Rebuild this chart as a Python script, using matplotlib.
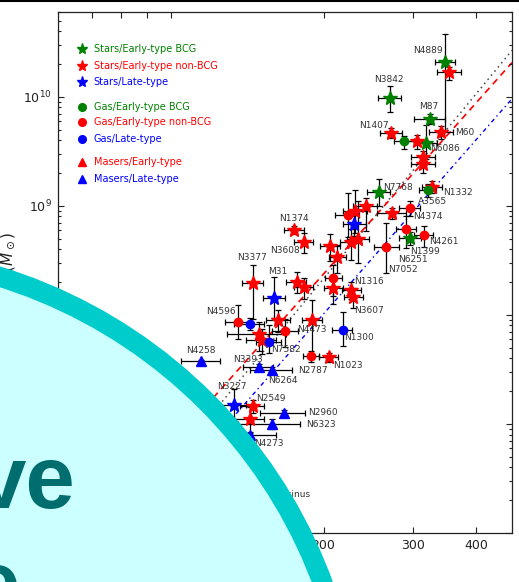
import matplotlib
matplotlib.use("Agg")
import matplotlib.pyplot as plt
from matplotlib.patches import Circle
from matplotlib.lines import Line2D
from matplotlib.transforms import IdentityTransform
from matplotlib.ticker import FixedLocator, NullLocator, FuncFormatter

GREEN = "#008000"
RED = "#ff0000"
BLUE = "#0000ff"

# ---------------------------------------------------------------------------
# Data: sigma (km/s), BH mass (Msun), errors
# ---------------------------------------------------------------------------
# Stars / early-type BCG
sbcg_name = ["N4889", "N3842", "M87", "N7768", "N6086", "N1399"]
sbcg_sig = [347, 270, 324, 257, 318, 296]
sbcg_sig_err = [16, 14, 23, 13, 16, 15]
sbcg_m = [2.1e10, 9.7e9, 6.3e9, 1.33e9, 3.8e9, 5.1e8]
sbcg_m_lo = [1.6e10, 2.5e9, 0.7e9, 0.34e9, 1.1e9, 0.7e8]
sbcg_m_hi = [1.66e10, 3.0e9, 0.7e9, 0.45e9, 1.7e9, 0.7e8]

# Stars / early-type non-BCG
snon_name = ["", "N1407", "M60", "", "", "", "N1332", "", "", "",
             "", "", "", "", "N1374", "N3608", "N3377", "", "", "",
             "N1316", "N3607", "", "N4473", "N1023", "", "", "N2549", ""]
snon_sig = [354, 272, 341, 305, 314, 314, 327, 273, 231, 242,
            226, 234, 206, 213, 175, 183, 145, 177, 183, 209,
            227, 229, 163, 190, 205, 149, 151, 145, 143]
snon_sig_err = [19, 14, 18, 15, 17, 17, 15, 18, 13, 13,
                11, 12, 9, 8, 8, 8, 7, 8, 8, 9,
                10, 10, 9, 9, 9, 20, 10, 8, 10]
snon_m = [1.7e10, 4.7e9, 4.8e9, 3.9e9, 2.8e9, 2.4e9, 1.5e9, 8.6e8, 8.9e8, 9.9e8,
          4.7e8, 5.0e8, 4.3e8, 3.4e8, 6.0e8, 4.7e8, 1.96e8, 2.0e8, 1.8e8, 1.77e8,
          1.7e8, 1.46e8, 9.0e7, 9.0e7, 4.1e7, 6.7e7, 5.9e7, 1.45e7, 1.12e7]
snon_m_lo = [2.7e9, 0.5e9, 0.7e9, 0.6e9, 0.4e9, 0.4e9, 0.2e9, 1.0e8, 3.2e8, 4.0e8,
             1.5e8, 2.0e8, 1.2e8, 1.0e8, 0.5e8, 1.0e8, 1.04e8, 0.4e8, 0.4e8, 0.5e8,
             0.3e8, 0.3e8, 2.0e7, 4.8e7, 0.4e7, 2.0e7, 1.5e7, 0.2e7, 0.3e7]
snon_m_hi = [1.7e9, 0.5e9, 0.6e9, 0.6e9, 0.4e9, 0.4e9, 0.2e9, 1.0e8, 5.0e8, 2.0e8,
             1.5e8, 6.0e8, 1.2e8, 1.0e8, 0.5e8, 1.0e8, 0.94e8, 0.5e8, 0.4e8, 0.5e8,
             0.3e8, 0.3e8, 2.0e7, 4.7e7, 0.4e7, 2.0e7, 1.5e7, 0.2e7, 0.3e7]

# Stars / late-type
slate_name = ["", "M31", "N3227"]
slate_sig = [230, 160, 133]
slate_sig_err = [12, 8, 8]
slate_m = [6.8e8, 1.43e8, 1.5e7]
slate_m_lo = [1.5e8, 0.5e8, 0.4e7]
slate_m_hi = [1.5e8, 0.8e8, 0.6e7]

# Gas / early-type BCG
gbcg_name = ["", "A3565"]
gbcg_sig = [288, 321]
gbcg_sig_err = [13, 12]
gbcg_m = [3.9e9, 1.4e9]
gbcg_m_lo = [0.6e9, 0.2e9]
gbcg_m_hi = [0.45e9, 0.2e9]

# Gas / early-type non-BCG
gnon_name = ["N4374", "", "N6251", "N4261", "N7052", "", "N4596", "", "N2787"]
gnon_sig = [296, 223, 291, 315, 266, 209, 136, 168, 189]
gnon_sig_err = [14, 12, 13, 14, 15, 8, 8, 10, 7]
gnon_m = [9.5e8, 8.2e8, 6.1e8, 5.4e8, 4.2e8, 2.2e8, 8.6e7, 7.1e7, 4.2e7]
gnon_m_lo = [1.5e8, 3.0e8, 2.0e8, 1.2e8, 1.8e8, 0.7e8, 2.6e7, 2.0e7, 0.5e7]
gnon_m_hi = [1.5e8, 4.8e8, 2.0e8, 1.2e8, 2.7e8, 0.7e8, 3.8e7, 2.0e7, 0.5e7]

# Gas / late-type
glate_name = ["N1300", "", "N7582"]
glate_sig = [218, 143, 156]
glate_sig_err = [10, 10, 9]
glate_m = [7.3e7, 8.3e7, 5.7e7]
glate_m_lo = [2.1e7, 1.0e7, 1.2e7]
glate_m_hi = [3.4e7, 1.0e7, 2.3e7]

# Masers / late-type
mlate_name = ["N4258", "N3393", "N6264", "N2960", "N6323", "N4273", "Circinus"]
mlate_sig = [115, 149, 158, 167, 158, 143, 158]
mlate_sig_err = [10, 10, 15, 17, 22, 18, 10]
mlate_m = [3.8e7, 3.35e7, 3.1e7, 1.25e7, 1.0e7, 7.9e6, 1.7e6]
mlate_m_lo = [0.1e7, 0.2e7, 0.2e7, 0.1e7, 0.1e7, 0.5e6, 0.3e6]
mlate_m_hi = [0.1e7, 0.2e7, 0.2e7, 0.1e7, 0.1e7, 0.5e6, 0.3e6]

# Fit lines (end points at the plot edges)
fit_sig = [60, 470]
fit_all = [2.4e5, 2.67e10]      # black dotted
fit_early = [4.4e5, 2.06e10]    # red dashed
fit_late = [1.69e5, 9.6e9]      # blue dash-dot

legend_labels = ["Stars/Early-type BCG", "Stars/Early-type non-BCG", "Stars/Late-type",
                 "Gas/Early-type BCG", "Gas/Early-type non-BCG", "Gas/Late-type",
                 "Masers/Early-type", "Masers/Late-type"]
legend_markers = ["*", "*", "*", "o", "o", "o", "^", "^"]
legend_colors = [GREEN, RED, BLUE, GREEN, RED, BLUE, RED, BLUE]

# ---------------------------------------------------------------------------
# label placement: offset in pixels from the point, horizontal alignment
# ---------------------------------------------------------------------------
LABEL_POS = {
    "N4889": (-17, 11, "center"), "N3842": (-1, 19, "center"),
    "M87": (-1, 12, "center"), "N1407": (-3, 7, "right"),
    "M60": (14, -1, "left"), "N6086": (4, -6, "left"),
    "N7768": (4, 5, "left"), "N1332": (11, -6, "left"),
    "A3565": (5, -12, "center"), "N4374": (3, -8, "left"),
    "N4261": (5, -6, "left"), "N1399": (0, -14, "left"),
    "N6251": (-8, -30, "left"), "N7052": (2, -23, "left"),
    "N1316": (3, 8, "left"), "N3607": (1, -13, "left"),
    "N1300": (2, -8, "left"), "N1374": (0, 12, "center"),
    "N3608": (-4, -9, "right"), "N3377": (-1, 26, "center"),
    "M31": (3, 26, "center"), "N4596": (-3, 11, "right"),
    "N4473": (0, -10, "center"), "N7582": (2, -8, "left"),
    "N2787": (2, -14, "center"), "N1023": (4, -8, "left"),
    "N4258": (-1, 10, "center"), "N3393": (-25, 7, "left"),
    "N6264": (-3, -10, "left"), "N3227": (-2, 18, "center"),
    "N2549": (4, 8, "left"), "N2960": (24, 1, "left"),
    "N6323": (35, -1, "left"), "N4273": (5, -8, "left"),
    "Circinus": (39, 13, "right"),
}

groups = [
    (sbcg_name, sbcg_sig, sbcg_sig_err, sbcg_m, sbcg_m_lo, sbcg_m_hi, "*", GREEN, 10),
    (snon_name, snon_sig, snon_sig_err, snon_m, snon_m_lo, snon_m_hi, "*", RED, 10),
    (slate_name, slate_sig, slate_sig_err, slate_m, slate_m_lo, slate_m_hi, "*", BLUE, 10),
    (gbcg_name, gbcg_sig, gbcg_sig_err, gbcg_m, gbcg_m_lo, gbcg_m_hi, "o", GREEN, 6),
    (gnon_name, gnon_sig, gnon_sig_err, gnon_m, gnon_m_lo, gnon_m_hi, "o", RED, 6),
    (glate_name, glate_sig, glate_sig_err, glate_m, glate_m_lo, glate_m_hi, "o", BLUE, 6),
    (mlate_name, mlate_sig, mlate_sig_err, mlate_m, mlate_m_lo, mlate_m_hi, "^", BLUE, 6.5),
]

W, H = 519, 582
fig = plt.figure(figsize=(W / 100, H / 100), dpi=100)
fig.patch.set_facecolor("white")
ax = fig.add_axes([58 / W, 1 - 533 / H, 454 / W, 521 / H])
ax.set_xscale("log")
ax.set_yscale("log")

ax.plot(fit_sig, fit_all, color="#444444", lw=1.1, ls=(0, (1, 2.5)), zorder=1)
ax.plot(fit_sig, fit_early, color=RED, lw=1.2, ls=(0, (4, 3)), zorder=1)
ax.plot(fit_sig, fit_late, color=BLUE, lw=1.0, ls=(0, (3, 2.5, 1, 2.5)), zorder=1)

for names, sig, sig_err, m, lo, hi, mk, col, ms in groups:
    ax.errorbar(sig, m, xerr=sig_err, yerr=[lo, hi], fmt="none", ecolor="black",
                elinewidth=0.9, capsize=2.5, capthick=0.9, zorder=2)
    ax.plot(sig, m, ls="none", marker=mk, color=col, mec=col, ms=ms, zorder=3)
    for nm, x, y in zip(names, sig, m):
        if not nm:
            continue
        dx, dy, ha = LABEL_POS[nm]
        ax.annotate(nm, (x, y), xytext=(dx, dy), textcoords="offset pixels",
                    ha=ha, va="center", fontsize=6.5, color="#333333", zorder=4)

ax.set_xlim(60, 470)
ax.set_ylim(1e6, 6e10)
ax.xaxis.set_major_locator(FixedLocator([70, 80, 90, 100, 200, 300, 400]))
ax.xaxis.set_minor_locator(NullLocator())
ax.xaxis.set_major_formatter(FuncFormatter(lambda v, p: f"{v:g}"))
ax.tick_params(which="both", direction="in", top=True, right=True,
               width=0.8, labelsize=9, colors="#222222")
ax.tick_params(which="major", length=4.5, pad=4.5)
ax.tick_params(which="minor", length=2.5)
for sp in ax.spines.values():
    sp.set_linewidth(0.9)
    sp.set_color("#222222")
ax.set_xlabel(r"$\sigma$ (km/s)", fontsize=11)

# manual legend
leg_rows = [49, 66, 82, 107, 122, 139, 162, 179]
for lab, mk, col, ypix in zip(legend_labels, legend_markers, legend_colors, leg_rows):
    yf = (533 - ypix) / 521
    ax.plot([0.053], [yf], transform=ax.transAxes, marker=mk, color=col,
            ms=8 if mk == "*" else 5.5, ls="none", clip_on=False)
    ax.text(0.079, yf, lab, transform=ax.transAxes, color=col, fontsize=7,
            va="center", ha="left")

fig.text(8, H - 232, r"$M_{\rm BH}\ (M_\odot)$", transform=IdentityTransform(),
         rotation=90, ha="center", va="top", fontsize=11, color="#222222")

# slide overlay: big cyan disc with heading text
fig.add_artist(Circle((-150, H - 758), 504, transform=IdentityTransform(),
                      facecolor="#ccffff", edgecolor="#00cccc", lw=14.4, zorder=10))
fig.text(75, H - 508, "ve", transform=IdentityTransform(), ha="right", va="baseline",
         fontsize=64, fontweight="bold", family="Liberation Sans", color="#006e6e",
         zorder=11)
fig.text(20, H - 613, "e", transform=IdentityTransform(), ha="right", va="baseline",
         fontsize=64, fontweight="bold", family="Liberation Sans", color="#006e6e",
         zorder=11)
fig.add_artist(Line2D([0, W], [H - 1, H - 1], transform=IdentityTransform(),
                      color="black", lw=1.5, zorder=12))

fig.savefig("out.png", dpi=100)
